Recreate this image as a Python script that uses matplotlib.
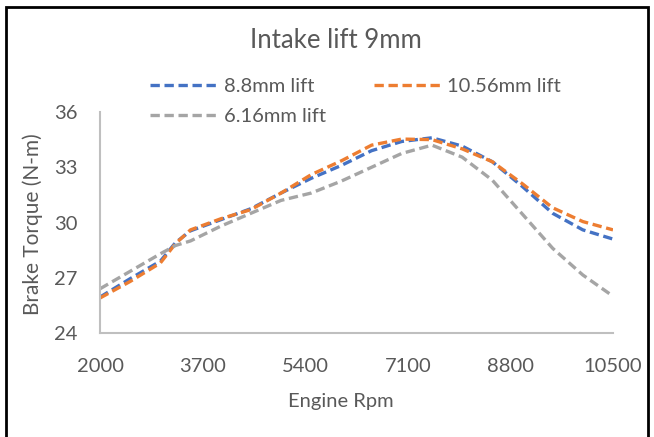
import matplotlib.pyplot as plt
from matplotlib.patches import Rectangle

# ── Datos ─────────────────────────────────────────────────────────────────────
rpm = [2000, 2500, 3000, 3250, 3500, 4000, 4500, 5000, 5500, 6000,
       6500, 7000, 7500, 8000, 8500, 9000, 9500, 10000, 10500]

lift_8_8 = [25.95, 26.95, 27.9, 28.9, 29.55, 30.15, 30.75, 31.6, 32.4, 33.1,
            33.9, 34.4, 34.6, 34.15, 33.3, 31.95, 30.5, 29.6, 29.1]
lift_10_56 = [25.9, 26.8, 27.8, 28.85, 29.6, 30.2, 30.7, 31.6, 32.6, 33.35,
              34.2, 34.53, 34.5, 34.0, 33.3, 32.1, 30.8, 30.05, 29.6]
lift_6_16 = [26.4, 27.35, 28.3, 28.75, 29.0, 29.8, 30.5, 31.2, 31.6, 32.25,
             33.0, 33.75, 34.2, 33.55, 32.3, 30.45, 28.6, 27.15, 26.0]

x_ticks = [2000, 3700, 5400, 7100, 8800, 10500]
y_ticks = [24, 27, 30, 33, 36]

COLORS = {"8.8mm lift": "#4472C4", "10.56mm lift": "#ED7D31", "6.16mm lift": "#A5A5A5"}
TEXT = "#595959"
FONT = "Lato"
W, H = 654, 437

# ── Figura ────────────────────────────────────────────────────────────────────
fig = plt.figure(figsize=(W / 100, H / 100), dpi=100)
ax = fig.add_axes([100 / W, 1 - 333 / H, 513 / W, 221 / H])

series = {"8.8mm lift": lift_8_8, "10.56mm lift": lift_10_56, "6.16mm lift": lift_6_16}
lines = {}
for name, vals in series.items():
    (ln,) = ax.plot(rpm, vals, color=COLORS[name], linewidth=2.4,
                    dashes=(2.8, 1.4), label=name, solid_joinstyle="round")
    lines[name] = ln

ax.set_xlim(2000, 10500)
ax.set_ylim(24, 36)
ax.set_xticks(x_ticks)
ax.set_yticks(y_ticks)
ax.tick_params(axis="x", length=0, labelsize=14.5, labelcolor=TEXT, pad=18)
ax.tick_params(axis="y", length=0, labelsize=14.5, labelcolor=TEXT, pad=16)
for lab in ax.get_xticklabels() + ax.get_yticklabels():
    lab.set_fontfamily(FONT)

for side in ["top", "right"]:
    ax.spines[side].set_visible(False)
for side in ["left", "bottom"]:
    ax.spines[side].set_color("#BFBFBF")
    ax.spines[side].set_linewidth(1.5)

# títulos de ejes como texto de figura para colocarlos donde Excel los pone
fig.text(341 / W, 1 - 401 / H, "Engine Rpm", fontsize=14.5, color=TEXT,
         family=FONT, ha="center", va="center")
fig.text(33 / W, 1 - 224 / H, "Brake Torque (N-m)", fontsize=15, color=TEXT,
         family=FONT, ha="center", va="center", rotation=90)

fig.text(336 / W, 1 - 40 / H, "Intake lift 9mm", fontsize=18.5, color=TEXT,
         family=FONT, ha="center", va="center")

# leyenda: orden columna a columna para que quede como en Excel
handles = [lines["8.8mm lift"], lines["6.16mm lift"], lines["10.56mm lift"]]
fig.legend(handles, [h.get_label() for h in handles], ncol=2, frameon=False,
           loc="upper left", bbox_to_anchor=(150 / W, 1 - 78 / H),
           prop={"family": FONT, "size": 14.5}, labelcolor=TEXT,
           handlelength=3.3, handletextpad=0.35, columnspacing=2.4,
           labelspacing=0.62, borderpad=0, borderaxespad=0)

# marco negro exterior
fig.patches.append(Rectangle((6 / W, -0.01), 642 / W, 1 - 7 / H + 0.01,
                             transform=fig.transFigure, fill=False,
                             edgecolor="black", linewidth=2))

fig.savefig("out.png", dpi=100)
